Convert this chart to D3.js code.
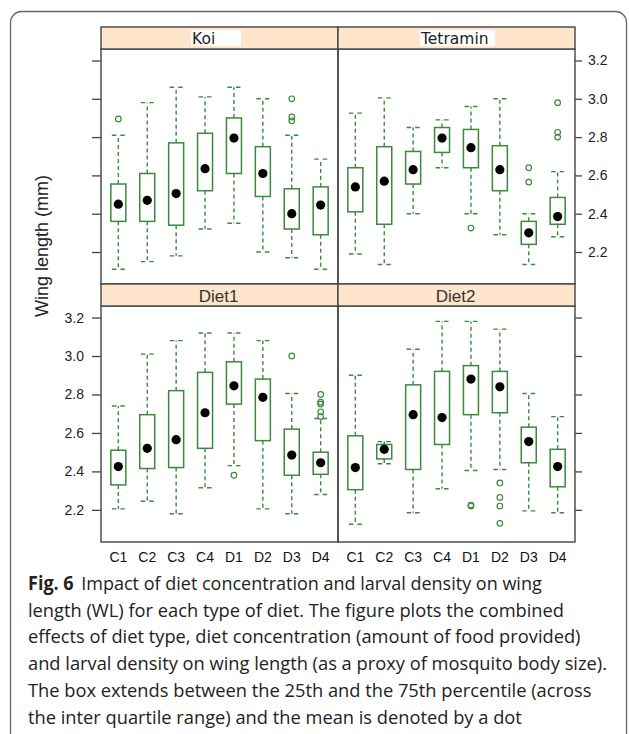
<!DOCTYPE html>
<html>
<head>
<meta charset="utf-8">
<script src="https://cdn.jsdelivr.net/npm/d3@7"></script>
<style>
  body { margin: 0; background: #fff; }
  svg { display: block; }
</style>
</head>
<body>
<div id="chart"></div>
<script>
// data (wing length, mm)
const panels = ["Koi", "Tetramin", "Diet1", "Diet2"];
const categories = ["C1", "C2", "C3", "C4", "D1", "D2", "D3", "D4"];
const yTicks = [2.2, 2.4, 2.6, 2.8, 3.0, 3.2];

const whiskerLow = [
    [2.11, 2.15, 2.18, 2.32, 2.35, 2.20, 2.17, 2.11],
    [2.19, 2.135, 2.40, 2.64, 2.40, 2.29, 2.135, 2.28],
    [2.205, 2.245, 2.18, 2.315, 2.43, 2.205, 2.18, 2.28],
    [2.125, 2.44, 2.185, 2.31, 2.405, 2.41, 2.195, 2.185]
];
const q1 = [
    [2.36, 2.36, 2.34, 2.52, 2.61, 2.49, 2.32, 2.29],
    [2.41, 2.345, 2.555, 2.72, 2.64, 2.52, 2.24, 2.345],
    [2.33, 2.415, 2.42, 2.52, 2.75, 2.56, 2.38, 2.385],
    [2.305, 2.465, 2.41, 2.54, 2.695, 2.705, 2.445, 2.32]
];
const q3 = [
    [2.555, 2.61, 2.77, 2.82, 2.90, 2.75, 2.53, 2.54],
    [2.64, 2.75, 2.725, 2.85, 2.84, 2.755, 2.36, 2.485],
    [2.51, 2.695, 2.82, 2.915, 2.97, 2.88, 2.62, 2.50],
    [2.585, 2.54, 2.85, 2.92, 2.95, 2.92, 2.63, 2.515]
];
const whiskerHigh = [
    [2.81, 2.98, 3.06, 3.01, 3.06, 3.00, 2.81, 2.685],
    [2.925, 3.005, 2.85, 2.89, 2.96, 3.00, 2.40, 2.62],
    [2.74, 3.01, 3.08, 3.12, 3.12, 3.08, 2.805, 2.675],
    [2.90, 2.555, 3.035, 3.18, 3.18, 3.14, 2.805, 2.685]
];
const means = [
    [2.45, 2.47, 2.505, 2.635, 2.795, 2.61, 2.40, 2.445],
    [2.54, 2.57, 2.63, 2.795, 2.745, 2.63, 2.30, 2.385],
    [2.425, 2.52, 2.565, 2.705, 2.845, 2.785, 2.485, 2.445],
    [2.42, 2.515, 2.695, 2.68, 2.88, 2.84, 2.555, 2.425]
];
// [category index, value]
const outliers = [
    [[0, 2.895], [6, 3.00], [6, 2.905], [6, 2.885]],
    [[4, 2.325], [6, 2.64], [6, 2.565], [7, 2.98], [7, 2.825], [7, 2.80]],
    [[4, 2.38], [6, 3.00], [7, 2.80], [7, 2.76], [7, 2.75], [7, 2.71], [7, 2.685]],
    [[4, 2.225], [4, 2.22], [5, 2.34], [5, 2.265], [5, 2.22], [5, 2.13]]
];

const captionLines = [
    "length (WL) for each type of diet. The figure plots the combined",
    "effects of diet type, diet concentration (amount of food provided)",
    "and larval density on wing length (as a proxy of mosquito body size).",
    "The box extends between the 25th and the 75th percentile (across",
    "the inter quartile range) and the mean is denoted by a dot"
];

const W = 629, H = 734;
const green = "#3b8a3b";
const colX = [101, 338], colW = 237;
const stripTop = [27, 284], stripH = 22;
const panelTop = [49, 306], panelBottom = [284, 542];

const svg = d3.select("#chart").append("svg")
    .attr("width", W)
    .attr("height", H);

// outer frame
svg.append("rect")
    .attr("x", 10.5).attr("y", 11.5)
    .attr("width", 616).attr("height", 780)
    .attr("rx", 11)
    .attr("fill", "none")
    .attr("stroke", "#666")
    .attr("stroke-width", 1.3);

const x = d3.scaleLinear().domain([0.4, 8.6]).range([0, colW]);

panels.forEach((name, p) => {
    const row = Math.floor(p / 2), col = p % 2;
    const ph = panelBottom[row] - panelTop[row];
    const y = d3.scaleLinear().domain([2.033, 3.26]).range([ph, 0]);

    const g = svg.append("g")
        .attr("transform", `translate(${colX[col]},${panelTop[row]})`);

    // y axes: labels right on top row, left on bottom row
    const fmt = d3.format(".1f");
    if (col === 0) {
        const ax = g.append("g")
            .call(d3.axisLeft(y).tickValues(yTicks).tickSize(9).tickPadding(8)
                .tickFormat(row === 1 ? fmt : () => ""));
        ax.select(".domain").remove();
        ax.selectAll("line").attr("stroke", "#444").attr("stroke-width", 1.3);
        ax.selectAll("text").attr("font-family", "Liberation Sans, Arial, sans-serif")
            .attr("font-size", 14).attr("fill", "#222");
    } else {
        const ax = g.append("g")
            .attr("transform", `translate(${colW},0)`)
            .call(d3.axisRight(y).tickValues(yTicks).tickSize(7).tickPadding(6)
                .tickFormat(row === 0 ? fmt : () => ""));
        ax.select(".domain").remove();
        ax.selectAll("line").attr("stroke", "#444").attr("stroke-width", 1.3);
        ax.selectAll("text").attr("font-family", "Liberation Sans, Arial, sans-serif")
            .attr("font-size", 14).attr("fill", "#222");
    }

    const idx = d3.range(categories.length);

    // whiskers
    g.selectAll(".wh").data(idx).enter().append("line")
        .attr("x1", i => x(i + 1)).attr("x2", i => x(i + 1))
        .attr("y1", i => y(q3[p][i])).attr("y2", i => y(whiskerHigh[p][i]))
        .attr("stroke", green).attr("stroke-width", 1.4).attr("stroke-dasharray", "4,3");
    g.selectAll(".wl").data(idx).enter().append("line")
        .attr("x1", i => x(i + 1)).attr("x2", i => x(i + 1))
        .attr("y1", i => y(q1[p][i])).attr("y2", i => y(whiskerLow[p][i]))
        .attr("stroke", green).attr("stroke-width", 1.4).attr("stroke-dasharray", "4,3");
    // caps
    [whiskerHigh, whiskerLow].forEach(arr => {
        g.selectAll(null).data(idx).enter().append("line")
            .attr("x1", i => x(i + 1) - 6.5).attr("x2", i => x(i + 1) + 6.5)
            .attr("y1", i => y(arr[p][i])).attr("y2", i => y(arr[p][i]))
            .attr("stroke", green).attr("stroke-width", 1.4).attr("stroke-dasharray", "4.5,4");
    });

    // boxes
    g.selectAll(".box").data(idx).enter().append("rect")
        .attr("x", i => x(i + 1) - 7.5)
        .attr("width", 15)
        .attr("y", i => y(q3[p][i]))
        .attr("height", i => y(q1[p][i]) - y(q3[p][i]))
        .attr("fill", "none").attr("stroke", green).attr("stroke-width", 1.5);

    // outliers
    g.selectAll(".out").data(outliers[p]).enter().append("circle")
        .attr("cx", d => x(d[0] + 1))
        .attr("cy", d => y(d[1]))
        .attr("r", 2.8)
        .attr("fill", "none").attr("stroke", green).attr("stroke-width", 1.2);

    // means
    g.selectAll(".mean").data(idx).enter().append("circle")
        .attr("cx", i => x(i + 1))
        .attr("cy", i => y(means[p][i]))
        .attr("r", 4.6)
        .attr("fill", "#000");

    // panel border
    g.append("rect")
        .attr("width", colW).attr("height", ph)
        .attr("fill", "none").attr("stroke", "#444").attr("stroke-width", 1.4);

    // strip
    const s = svg.append("g").attr("transform", `translate(${colX[col]},${stripTop[row]})`);
    s.append("rect")
        .attr("width", colW).attr("height", stripH)
        .attr("fill", "#ffe5cc").attr("stroke", "#444").attr("stroke-width", 1.4);
    if (row === 0) {
        // top strips carry a white label patch
        const patch = col === 0 ? [90, 50] : [82, 75];
        s.append("rect")
            .attr("x", patch[0]).attr("y", 3)
            .attr("width", patch[1]).attr("height", 16)
            .attr("fill", "#fff");
        s.append("text")
            .attr("x", patch[0] + 1).attr("y", 17)
            .attr("font-family", "DejaVu Sans, sans-serif")
            .attr("font-size", 15.5)
            .attr("fill", "#222")
            .text(name);
    } else {
        s.append("text")
            .attr("x", colW / 2 - 1).attr("y", 18)
            .attr("text-anchor", "middle")
            .attr("font-family", "Liberation Sans, Arial, sans-serif")
            .attr("font-size", 17)
            .attr("fill", "#333")
            .text(name);
    }

    // x labels on bottom row
    if (row === 1) {
        svg.append("g").selectAll("text").data(categories).enter().append("text")
            .attr("x", (d, i) => colX[col] + x(i + 1))
            .attr("y", 562)
            .attr("text-anchor", "middle")
            .attr("font-family", "Liberation Sans, Arial, sans-serif")
            .attr("font-size", 14)
            .attr("fill", "#111")
            .text(d => d);
    }
});

// y axis title
svg.append("text")
    .attr("transform", "translate(48,246) rotate(-90)")
    .attr("text-anchor", "middle")
    .attr("font-family", "Liberation Sans, Arial, sans-serif")
    .attr("font-size", 18)
    .attr("fill", "#222")
    .text("Wing length (mm)");

// caption: one common horizontal squeeze so the longest line ends near the frame
const capFont = "Open Sans, sans-serif";
const capTexts = [];
const first = svg.append("text")
    .attr("x", 28).attr("y", 590)
    .attr("font-family", capFont).attr("font-size", 19).attr("fill", "#222");
first.append("tspan").attr("font-weight", "bold").text("Fig. 6");
first.append("tspan").attr("dx", 8).text("Impact of diet concentration and larval density on wing");
capTexts.push(first);

captionLines.forEach((t, i) => {
    capTexts.push(svg.append("text")
        .attr("x", 28).attr("y", 590 + (i + 1) * 26.7)
        .attr("font-family", capFont).attr("font-size", 19).attr("fill", "#222")
        .text(t));
});

const natural = capTexts.map(t => t.node().getComputedTextLength());
const k = 579 / natural[3];
capTexts.forEach((t, i) => {
    t.attr("textLength", natural[i] * k).attr("lengthAdjust", "spacingAndGlyphs");
});
</script>
</body>
</html>
